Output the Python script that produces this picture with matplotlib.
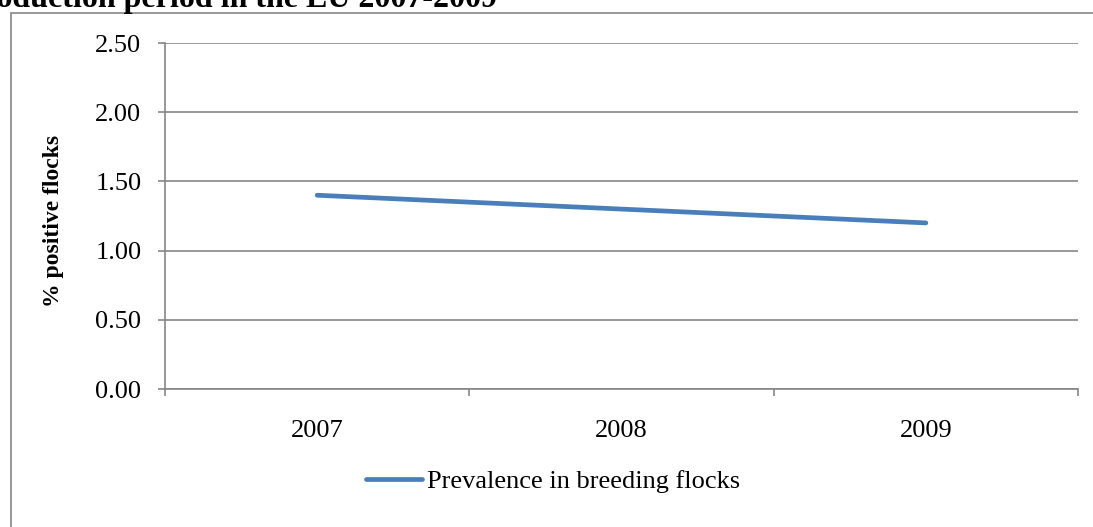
import numpy as np
import matplotlib.pyplot as plt
from matplotlib.patches import Rectangle

# data
years = ['2007', '2008', '2009']
prevalence = [1.40, 1.30, 1.20]
y_ticks = [0.0, 0.5, 1.0, 1.5, 2.0, 2.5]
series_name = 'Prevalence in breeding flocks'

plt.rcParams['font.family'] = ['Liberation Serif', 'DejaVu Serif']

W, H = 1093, 527
fig = plt.figure(figsize=(W / 100, H / 100), dpi=100)

# outer chart frame
fig.patches.append(Rectangle((11 / W, -0.1), 1.2, 1 - 13 / H + 0.1, transform=fig.transFigure,
                             fill=False, edgecolor='#868686', linewidth=1.2))

# cut-off title above the chart
fig.text(497 / W, 1 - 7 / H, 'production period in the EU 2007-2009', ha='right', va='baseline',
         fontsize=23, fontweight='bold')

ax = fig.add_axes([165 / W, 1 - 389 / H, (1078 - 165) / W, (389 - 43) / H])
x = np.arange(len(years))
ax.plot(x, prevalence, color='#4a7ebb', linewidth=3.4, solid_capstyle='round', label=series_name)

ax.set_xlim(-0.5, len(years) - 0.5)
ax.set_ylim(0, 2.5)
ax.set_yticks(y_ticks)
ax.set_yticklabels([f'{v:.2f}' for v in y_ticks])
ax.set_xticks(x)
ax.set_xticklabels(years)
ax.set_xticks(np.arange(-0.5, len(years)), minor=True)
ax.tick_params(axis='x', which='major', length=0, pad=22, labelsize=19)
ax.tick_params(axis='x', which='minor', length=5, width=1.2, color='#868686')
ax.tick_params(axis='y', length=5, width=1.2, color='#868686', pad=12, labelsize=19)

ax.grid(axis='y', color='#868686', linewidth=1.2)
ax.set_axisbelow(True)
for s in ['top', 'right']:
    ax.spines[s].set_visible(False)
for s in ['left', 'bottom']:
    ax.spines[s].set_color('#868686')
    ax.spines[s].set_linewidth(1.2)

ax.set_ylabel('% positive flocks', fontsize=17, fontweight='bold')
ax.yaxis.set_label_coords(-(165 - 64) / (1078 - 165), (389 - 221) / (389 - 43))

ax.legend(loc='center', bbox_to_anchor=(553 / W, 1 - 481 / H), bbox_transform=fig.transFigure,
          frameon=False, fontsize=19, handlelength=2.1, handletextpad=0.2)

fig.savefig('out.png', dpi=100)
